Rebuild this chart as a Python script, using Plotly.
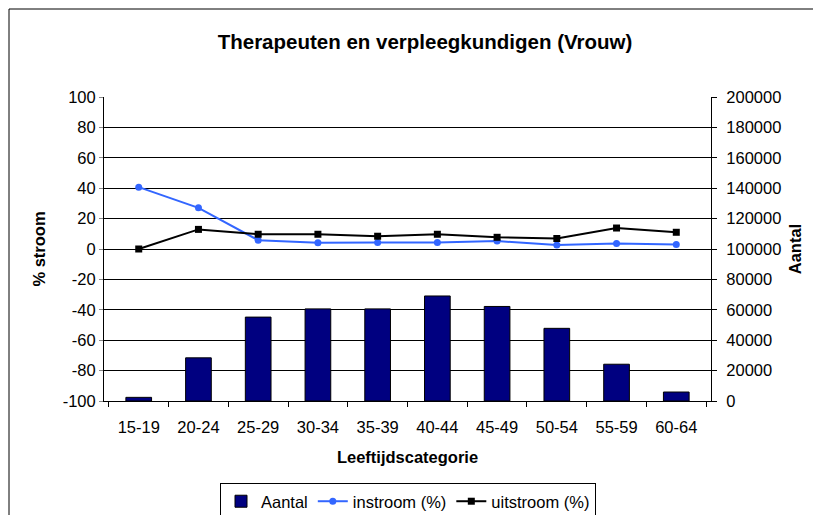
import plotly.graph_objects as go

categories = ["15-19", "20-24", "25-29", "30-34", "35-39", "40-44", "45-49", "50-54", "55-59", "60-64"]
aantal = [2400, 28400, 55200, 60600, 60600, 69100, 62200, 47800, 24200, 5900]
instroom = [40.7, 27.1, 5.8, 4.1, 4.3, 4.3, 5.2, 2.6, 3.7, 3.0]
uitstroom = [0.0, 12.9, 9.7, 9.7, 8.4, 9.7, 7.7, 6.9, 13.8, 11.0]
pct_tickvals = [-100, -80, -60, -40, -20, 0, 20, 40, 60, 80, 100]
pct_ticktext = ["-100", "-80", "-60", "-40", "-20", "0", "20", "40", "60", "80", "100"]

FONT = "Liberation Sans, Arial, sans-serif"
TICK = 16.5

# the page body has an 8px margin; work in screen pixels and shift
OFF = 8
W, H = 821 - OFF, 515 - OFF
L, R, T, B = 104 - OFF, 711 - OFF, 97 - OFF, 401 - OFF
pw, ph = R - L, B - T

def px_x(p):
    return (p - OFF - L) / pw

def px_y(p):
    return (B - (p - OFF)) / ph

fig = go.Figure()
fig.add_trace(go.Bar(
    x=categories, y=aantal, name="Aantal", yaxis="y",
    marker=dict(color="#000080", line=dict(color="black", width=1)),
    width=0.43,
))
fig.add_trace(go.Scatter(
    x=categories, y=instroom, name="instroom (%)", yaxis="y2",
    mode="lines+markers",
    line=dict(color="#3366FF", width=2),
    marker=dict(symbol="circle", size=7, color="#3366FF"),
))
fig.add_trace(go.Scatter(
    x=categories, y=uitstroom, name="uitstroom (%)", yaxis="y2",
    mode="lines+markers",
    line=dict(color="black", width=2),
    marker=dict(symbol="square", size=7, color="black"),
))

fig.update_layout(
    width=W, height=H,
    margin=dict(l=L, r=W - R, t=T, b=H - B, autoexpand=False),
    paper_bgcolor="white", plot_bgcolor="white",
    font=dict(family=FONT, size=16, color="black"),
    title=dict(
        text="<b>Therapeuten en verpleegkundigen (Vrouw)</b>",
        font=dict(family=FONT, size=20.5, color="black"),
        x=(425 - OFF) / W, xanchor="center", xref="container",
        y=1 - (42 - OFF) / H, yanchor="middle", yref="container",
    ),
    showlegend=True,
    legend=dict(
        orientation="h", x=px_x(408), xanchor="center",
        y=px_y(483), yanchor="top",
        bordercolor="black", borderwidth=1, bgcolor="white",
        font=dict(family=FONT, size=16.5, color="black"),
        traceorder="normal", itemwidth=30,
    ),
    xaxis=dict(
        type="category", showline=True, linecolor="black", linewidth=1,
        ticks="outside", tickson="boundaries", ticklen=5, tickcolor="black",
        tickfont=dict(size=TICK), showgrid=False, ticklabelstandoff=11,
        title=dict(text="<b>Leeftijdscategorie</b>", font=dict(size=16.5), standoff=16),
    ),
    yaxis=dict(
        side="right", range=[0, 200000], dtick=20000, tick0=0, tickformat="d",
        showline=True, linecolor="black", linewidth=1,
        ticks="outside", ticklen=5, tickcolor="black", ticklabelstandoff=6,
        showgrid=True, gridcolor="black", gridwidth=1,
        zeroline=False, tickfont=dict(size=TICK),
        title=dict(text="<b>Aantal</b>", font=dict(size=16.5), standoff=9),
    ),
    yaxis2=dict(
        overlaying="y", side="left", range=[-100, 100],
        tickmode="array", tickvals=pct_tickvals, ticktext=pct_ticktext,
        showline=True, linecolor="black", linewidth=1,
        ticks="outside", ticklen=4, tickcolor="#888888",
        showgrid=False, zeroline=False, tickfont=dict(size=TICK),
        title=dict(text="<b>% stroom</b>", font=dict(size=16.5), standoff=12),
    ),
    shapes=[dict(
        type="rect", xref="paper", yref="paper",
        x0=px_x(9), x1=px_x(845), y0=px_y(545), y1=px_y(9),
        line=dict(color="black", width=1), fillcolor="rgba(0,0,0,0)",
        layer="below",
    )],
)

fig.write_html("out.html")
